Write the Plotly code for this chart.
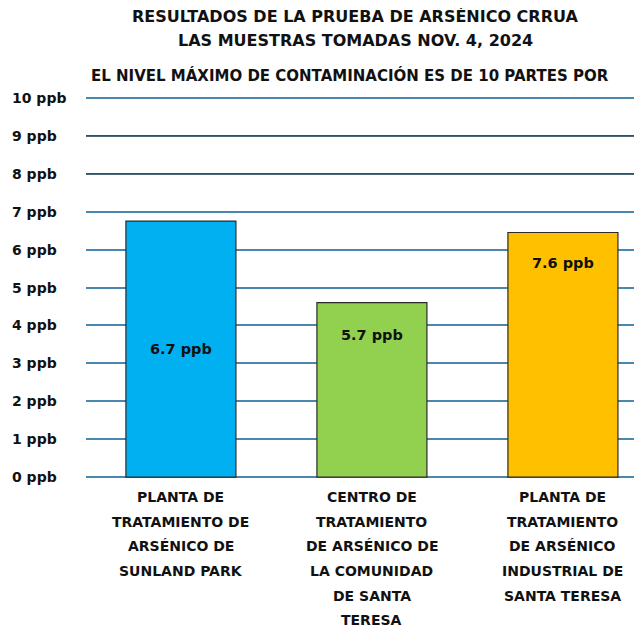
import plotly.graph_objects as go

# ---- data ----
categories = ["Sunland Park", "Comunidad Santa Teresa", "Industrial Santa Teresa"]
category_lines = [
    ["PLANTA DE", "TRATAMIENTO DE", "ARSÉNICO DE", "SUNLAND PARK"],
    ["CENTRO DE", "TRATAMIENTO", "DE ARSÉNICO DE", "LA COMUNIDAD", "DE SANTA", "TERESA"],
    ["PLANTA DE", "TRATAMIENTO", "DE ARSÉNICO", "INDUSTRIAL DE", "SANTA TERESA"],
]
bar_values = [6.75, 4.6, 6.45]
bar_labels = ["6.7 ppb", "5.7 ppb", "7.6 ppb"]
bar_colors = ["#00B0F0", "#92D050", "#FFC000"]
tick_values = [0, 1, 2, 3, 4, 5, 6, 7, 8, 9, 10]
tick_labels = ["0 ppb", "1 ppb", "2 ppb", "3 ppb", "4 ppb", "5 ppb", "6 ppb",
               "7 ppb", "8 ppb", "9 ppb", "10 ppb"]
gray_grid_values = [8, 9]
title_lines = ["RESULTADOS DE LA PRUEBA DE ARSÉNICO CRRUA",
               "LAS MUESTRAS TOMADAS NOV. 4, 2024"]
subtitle = "EL NIVEL MÁXIMO DE CONTAMINACIÓN ES DE 10 PARTES POR"

FONT = "DejaVu Sans"
OFF = 8  # page body margin
W, H = 634, 620
L, R = 78, 0
T, B = 86.2, 147.2
plot_h = H - T - B
plot_w = W - L - R
y_lo, y_hi = -0.1, 10.1


def py(p):
    """page pixel row -> paper y"""
    return (H - B - (p - OFF)) / plot_h


def px(p):
    """page pixel column -> paper x"""
    return (p - OFF - L) / plot_w


fig = go.Figure()
fig.add_trace(go.Bar(
    x=[0, 1, 2], y=bar_values,
    marker=dict(color=bar_colors, line=dict(color="#2b2b2b", width=1.2)),
    width=0.576, hoverinfo="skip",
))

ann = []
for i, line in enumerate(title_lines):
    ann.append(dict(text=f"<b>{line}</b>", xref="paper", yref="paper",
                    x=px(355), y=py(17 + 24 * i),
                    xanchor="center", yanchor="middle", showarrow=False,
                    font=dict(family=FONT, size=16, color="#111")))
ann.append(dict(text=f"<b>{subtitle}</b>", xref="paper", yref="paper",
                x=px(350), y=py(76),
                xanchor="center", yanchor="middle", showarrow=False,
                font=dict(family=FONT, size=15, color="#111")))
for v, t in zip(tick_values, tick_labels):
    ann.append(dict(text=f"<b>{t}</b>", xref="paper", yref="y",
                    x=px(10), y=v, xanchor="left", yanchor="middle",
                    showarrow=False, font=dict(family=FONT, size=14, color="#111")))
for c, lines in enumerate(category_lines):
    for i, line in enumerate(lines):
        ann.append(dict(text=f"<b>{line}</b>", xref="x", yref="paper",
                        x=c, y=py(497 + 24.6 * i),
                        xanchor="center", yanchor="middle", showarrow=False,
                        font=dict(family=FONT, size=14, color="#111")))
label_pos = [None, 0.85, 0.8]
for c, (v, t, p) in enumerate(zip(bar_values, bar_labels, label_pos)):
    yy = v / 2 if p is None else v - p
    ann.append(dict(text=f"<b>{t}</b>", x=c, y=yy, xref="x", yref="y",
                    showarrow=False, font=dict(family=FONT, size=14.5, color="#111")))

shapes = []
for v in gray_grid_values:
    shapes.append(dict(type="line", xref="paper", yref="y", x0=0, x1=1, y0=v, y1=v,
                       line=dict(color="#4a4a4a", width=1.5), layer="above"))

fig.update_layout(
    width=W, height=H,
    margin=dict(l=L, r=R, t=T, b=B),
    plot_bgcolor="white", paper_bgcolor="white",
    showlegend=False,
    xaxis=dict(showticklabels=False, showgrid=False, zeroline=False,
               range=[-0.497, 2.414]),
    yaxis=dict(range=[y_lo, y_hi], tickvals=tick_values, showticklabels=False,
               showgrid=True, gridcolor="#4A86AD", gridwidth=1.5, zeroline=False),
    annotations=ann,
    shapes=shapes,
)

fig.write_html("out.html")
